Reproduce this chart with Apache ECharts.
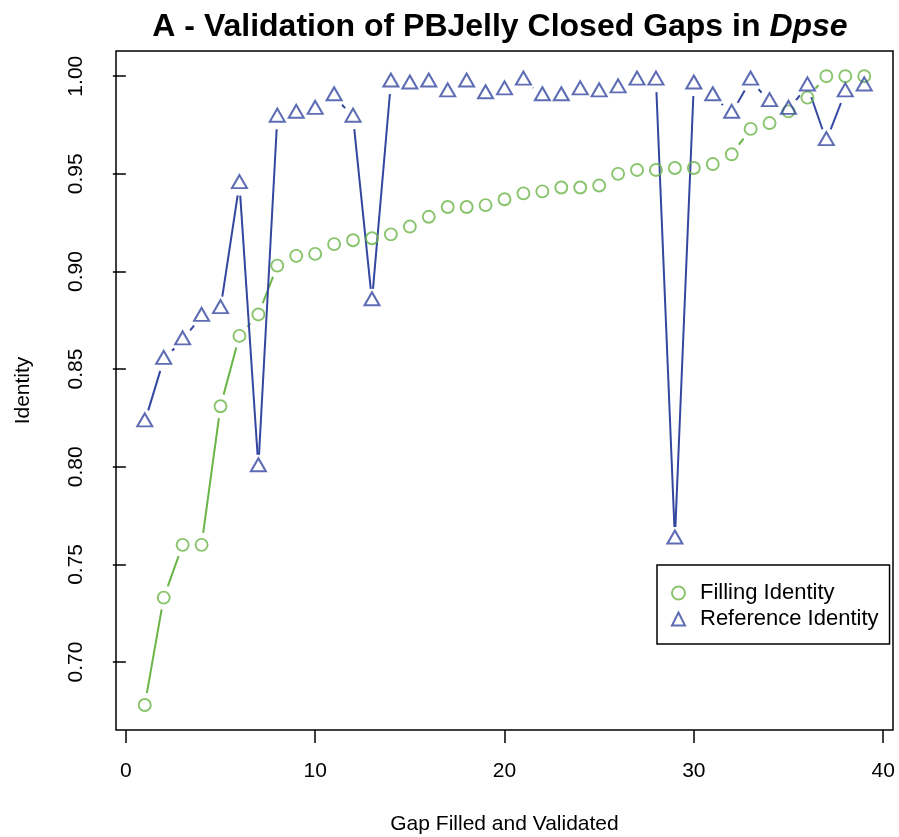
<!DOCTYPE html>
<html>
<head>
<meta charset="utf-8">
<script src="https://cdn.jsdelivr.net/npm/echarts@6/dist/echarts.min.js"></script>
<style>
html,body{margin:0;padding:0;background:#fff;}
#chart{width:899px;height:837px;}
</style>
</head>
<body>
<div id="chart"></div>
<script>
// ---- data ----
var gapIndex = [1,2,3,4,5,6,7,8,9,10,11,12,13,14,15,16,17,18,19,20,21,22,23,24,25,26,27,28,29,30,31,32,33,34,35,36,37,38,39];
var fillingIdentity = [0.678,0.733,0.760,0.760,0.831,0.867,0.878,0.903,0.908,0.909,0.914,0.916,0.917,0.919,0.923,0.928,0.933,0.933,0.934,0.937,0.940,0.941,0.943,0.943,0.944,0.950,0.952,0.952,0.953,0.953,0.955,0.960,0.973,0.976,0.982,0.989,1.000,1.000,1.000];
var referenceIdentity = [0.823,0.855,0.865,0.877,0.881,0.945,0.800,0.979,0.981,0.983,0.990,0.979,0.885,0.997,0.996,0.997,0.992,0.997,0.991,0.993,0.998,0.990,0.990,0.993,0.992,0.994,0.998,0.998,0.763,0.996,0.990,0.981,0.998,0.987,0.983,0.995,0.967,0.992,0.995];
var xTicks = [0,10,20,30,40];
var yTicks = [0.70,0.75,0.80,0.85,0.90,0.95,1.00];
var seriesNames = ['Filling Identity','Reference Identity'];

var GREEN = '#6ab547';
var BLUE = '#3447a0';
var FONT = 'Liberation Sans, Arial, Helvetica, sans-serif';

function points(ys){ return gapIndex.map(function(x,i){ return [x, ys[i]]; }); }
function segments(ys){
  var s = [];
  for (var i = 0; i < gapIndex.length - 1; i++) s.push([gapIndex[i], ys[i], gapIndex[i+1], ys[i+1]]);
  return s;
}
// R type="b": lines with a gap around each point
function gapLine(color){
  var GAP = 12;
  return function(params, api){
    var p1 = api.coord([api.value(0), api.value(1)]);
    var p2 = api.coord([api.value(2), api.value(3)]);
    var dx = p2[0]-p1[0], dy = p2[1]-p1[1];
    var d = Math.sqrt(dx*dx+dy*dy);
    if (d <= 2*GAP) return {type:'group', children:[]};
    var ux = dx/d, uy = dy/d;
    return {
      type:'line',
      shape:{x1:p1[0]+ux*GAP, y1:p1[1]+uy*GAP, x2:p2[0]-ux*GAP, y2:p2[1]-uy*GAP},
      style:{stroke:color, lineWidth:2}
    };
  };
}

var chart = echarts.init(document.getElementById('chart'), null, {renderer:'canvas'});
chart.setOption({
  animation:false,
  backgroundColor:'#fff',
  title:{
    text:'{a|A - Validation of PBJelly Closed Gaps in }{b|Dpse}',
    left:495, top:6, textAlign:'center',
    textStyle:{
      rich:{
        a:{fontFamily:FONT, fontWeight:'bold', fontSize:32, color:'#000'},
        b:{fontFamily:FONT, fontWeight:'bold', fontStyle:'italic', fontSize:32, color:'#000'}
      }
    }
  },
  grid:{left:116, right:6, top:51, bottom:107, outerBoundsMode:'none', containLabel:false,
        show:true, borderColor:'#000', borderWidth:1.5, backgroundColor:'transparent'},
  xAxis:{
    type:'value', min:-0.52, max:40.52,
    name:'Gap Filled and Validated', nameLocation:'middle', nameGap:84,
    nameTextStyle:{fontFamily:FONT, fontSize:21, color:'#000'},
    axisLine:{show:false},
    axisTick:{show:true, inside:false, length:13, customValues:xTicks, lineStyle:{color:'#000', width:1.5}},
    axisLabel:{customValues:xTicks, margin:31, fontFamily:FONT, fontSize:21, color:'#000', formatter:function(v){return String(v);}},
    splitLine:{show:false}
  },
  yAxis:{
    type:'value', min:0.6652, max:1.0129,
    name:'Identity', nameLocation:'middle', nameGap:82,
    nameTextStyle:{fontFamily:FONT, fontSize:21, color:'#000'},
    axisLine:{show:false},
    axisTick:{show:true, inside:false, length:13, customValues:yTicks, lineStyle:{color:'#000', width:1.5}},
    axisLabel:{customValues:yTicks, rotate:90, margin:29, fontFamily:FONT, fontSize:21, color:'#000', formatter:function(v){return v.toFixed(2);}},
    splitLine:{show:false}
  },
  legend:{
    orient:'vertical', left:657, top:565,
    padding:[17,11,14,14], itemGap:4, itemWidth:13, itemHeight:13,
    borderColor:'#000', borderWidth:1.5, backgroundColor:'#fff',
    textStyle:{fontFamily:FONT, fontSize:22, color:'#000', padding:[0,0,0,10]},
    data:[{name:seriesNames[0], icon:'circle'},{name:seriesNames[1], icon:'triangle'}]
  },
  series:[
    {type:'custom', name:'fillLine', data:segments(fillingIdentity), encode:{x:[0,2], y:[1,3]}, renderItem:gapLine(GREEN), silent:true, z:2},
    {type:'custom', name:'refLine', data:segments(referenceIdentity), encode:{x:[0,2], y:[1,3]}, renderItem:gapLine(BLUE), silent:true, z:2},
    {type:'scatter', name:seriesNames[0], data:points(fillingIdentity), symbol:'circle', symbolSize:12,
     itemStyle:{color:'rgba(255,255,255,0)', borderColor:GREEN, borderWidth:1.9}, z:3},
    {type:'scatter', name:seriesNames[1], data:points(referenceIdentity), symbol:'triangle', symbolSize:[15,13], symbolOffset:[0,-2],
     itemStyle:{color:'rgba(255,255,255,0)', borderColor:BLUE, borderWidth:2}, z:3}
  ]
});
</script>
</body>
</html>
